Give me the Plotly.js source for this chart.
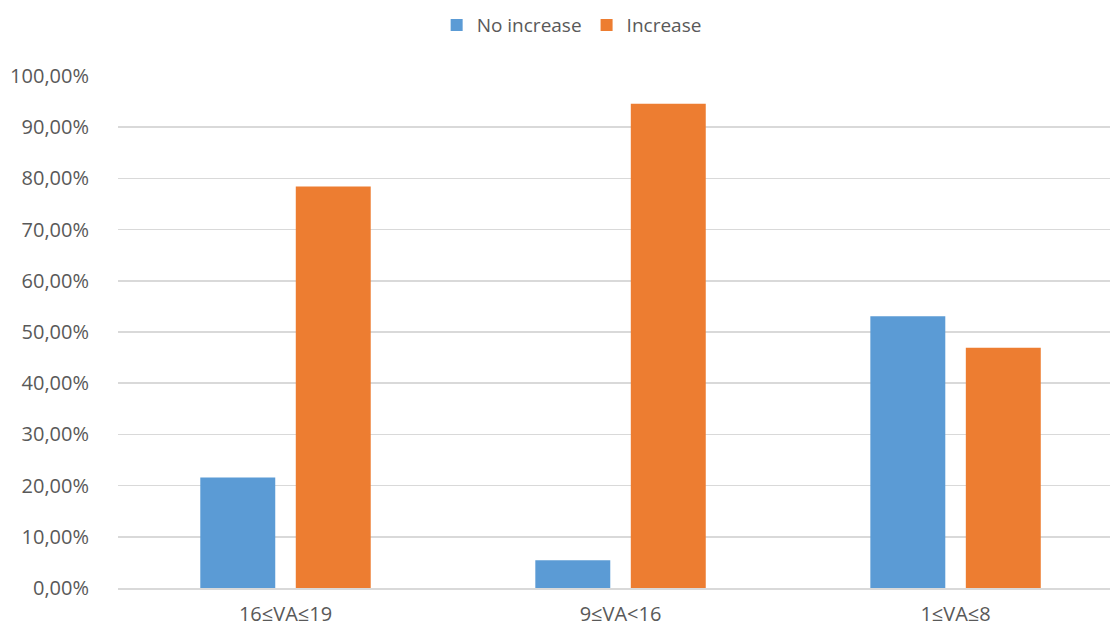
<!DOCTYPE html>
<html>
<head>
<meta charset="utf-8">
<script src="https://cdn.plot.ly/plotly-3.0.1.min.js"></script>
<style>html,body{margin:0;padding:0;background:#fff;}#chart{width:1110px;height:628px;}</style>
</head>
<body>
<div id="chart"></div>
<script>
var categories = ["16≤VA≤19", "9≤VA<16", "1≤VA≤8"];
var noIncrease = [21.6, 5.4, 53.1];
var increase = [78.4, 94.6, 46.9];
var seriesNames = ["No increase", "Increase"];
var yTicks = [0, 10, 20, 30, 40, 50, 60, 70, 80, 90, 100];
var yTickText = yTicks.map(function (v) { return v.toFixed(2).replace(".", ",") + "%"; });

var font = {family: "Open Sans, Liberation Sans, sans-serif", size: 20, color: "#595959"};
var legendFont = {family: "Open Sans, Liberation Sans, sans-serif", size: 19, color: "#595959"};

var data = [
  {type: "bar", name: seriesNames[0], x: categories, y: noIncrease,
   marker: {color: "#5B9BD5", line: {width: 0}}, hoverinfo: "none"},
  {type: "bar", name: seriesNames[1], x: categories, y: increase,
   marker: {color: "#ED7D31", line: {width: 0}}, hoverinfo: "none"}
];

var layout = {
  width: 1110, height: 628,
  margin: {l: 118, r: 0, t: 76, b: 40, pad: 0},
  paper_bgcolor: "#ffffff", plot_bgcolor: "#ffffff",
  font: font,
  barmode: "group",
  bargap: 0.43,
  bargroupgap: 0.215,
  showlegend: true,
  legend: {orientation: "h", xref: "container", yref: "container",
           x: 0.515, xanchor: "center", y: 0.96, yanchor: "middle",
           font: legendFont, traceorder: "normal"},
  xaxis: {type: "category", range: [-0.5, 2.461], showgrid: false, zeroline: false,
          showline: true, linecolor: "#D9D9D9", linewidth: 1.5,
          ticks: "outside", ticklen: 7, tickcolor: "rgba(0,0,0,0)",
          tickfont: font, fixedrange: true},
  yaxis: {range: [0, 100], tickvals: yTicks, ticktext: yTickText,
          showgrid: true, gridcolor: "#D9D9D9", gridwidth: 1.5, zeroline: false,
          showline: false, ticks: "outside", ticklen: 24, tickcolor: "rgba(0,0,0,0)",
          tickfont: font, fixedrange: true}
};

Plotly.newPlot("chart", data, layout, {displayModeBar: false, staticPlot: true});
</script>
</body>
</html>
